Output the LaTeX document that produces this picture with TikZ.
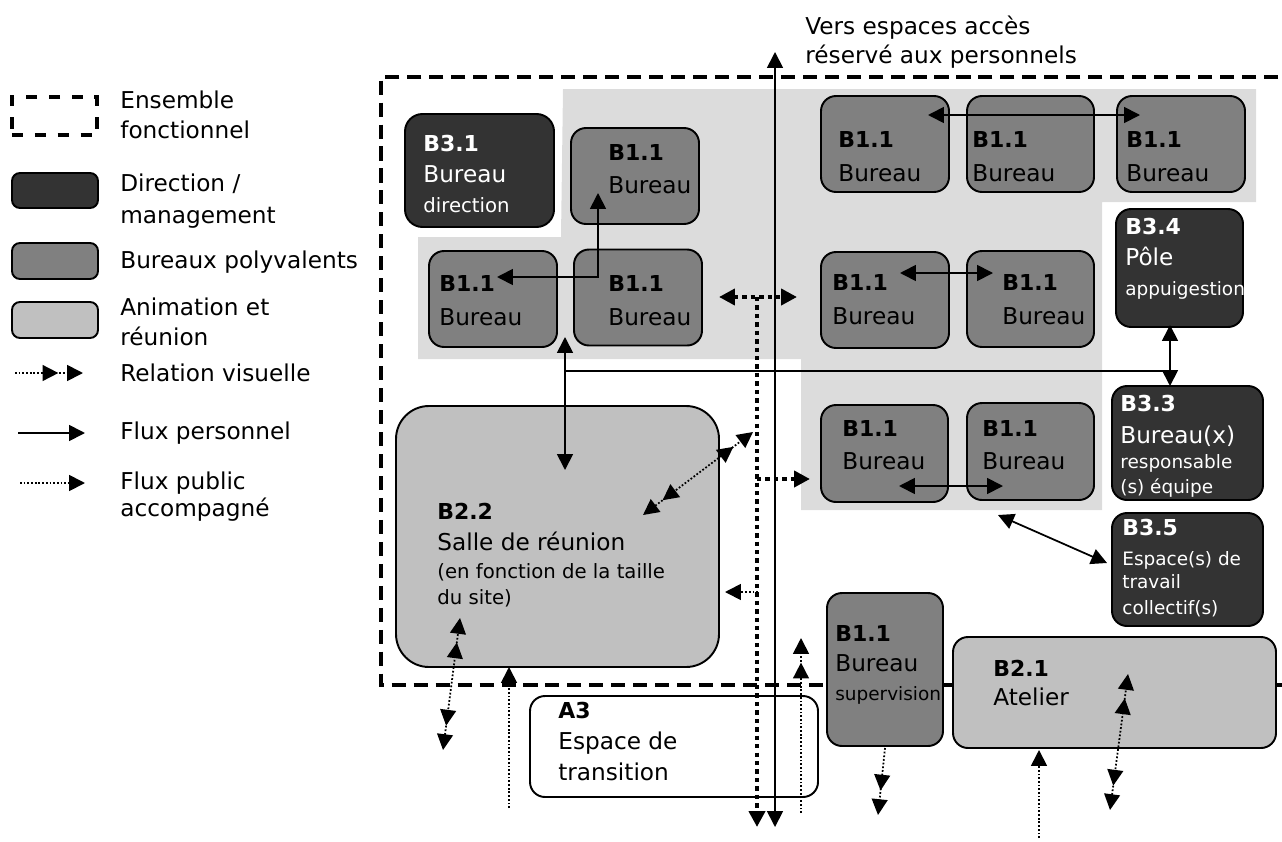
\documentclass[tikz,border=0pt]{standalone}
\usepackage{fontspec}
\setmainfont{DejaVu Sans}
\usetikzlibrary{arrows.meta}

\definecolor{fdark}{HTML}{333333}
\definecolor{fmid}{HTML}{808080}
\definecolor{flight}{HTML}{C0C0C0}
\definecolor{fbg}{HTML}{DCDCDC}
\newcommand{\sm}{\fontsize{10.5}{13}\selectfont}
\newcommand{\smb}{\fontsize{11.2}{13}\selectfont}
\newcommand{\bcode}[1]{{\fontsize{12.5}{15}\selectfont\bfseries #1}}

\tikzset{
  boite/.style={draw, line width=1.1pt, rounded corners=3mm, inner sep=0pt},
  direction/.style={boite, fill=fdark},
  polyv/.style={boite, fill=fmid},
  anim/.style={boite, fill=flight},
  ensemble/.style={line width=2pt, dash pattern=on 8pt off 4.5pt},
  txt/.style={inner sep=0pt, anchor=west, align=left, font=\fontsize{13.2}{19}\selectfont},
  legtxt/.style={txt, font=\fontsize{13.2}{17}\selectfont},
  flux/.style={line width=1pt, {Triangle[length=9pt,width=9pt]}-{Triangle[length=9pt,width=9pt]}},
  fluxpub/.style={line width=1pt, dash pattern=on 1pt off 1.1pt, -{Triangle[length=9pt,width=9pt]}},
  publicfort/.style={line width=2.5pt, dash pattern=on 2.5pt off 2.3pt},
  relvis/.style={line width=1pt, dash pattern=on 1pt off 1.1pt,
    -{Triangle[length=9pt,width=9pt,sep=5pt]Triangle[length=9pt,width=9pt]}},
  relvis2/.style={relvis,
    {Triangle[length=9pt,width=9pt]Triangle[length=9pt,width=9pt,sep=5pt]}-{Triangle[length=9pt,width=9pt,sep=5pt]Triangle[length=9pt,width=9pt]}},
}

\begin{document}
\begin{tikzpicture}[x=0.2mm,y=-0.2mm]
	\useasboundingbox (0,0) rectangle (1282,841);
	\clip (0,0) rectangle (1282,841);
	
	% zone grise
	\fill[fbg] (563,89) -- (1256,89) -- (1256,202) -- (1102,202) -- (1102,510) -- (801,510)
		-- (801,359) -- (418,359) -- (418,237) -- (561,237) -- cycle;
	
	% ensemble fonctionnel
	\draw[ensemble] (1300,77) -- (381,77) -- (381,685) -- (1300,685);
	
	% legende
	\node[draw, line width=2pt, dash pattern=on 6.5pt off 6.5pt, minimum width=17mm, minimum height=7.6mm] (legens) at (54.5,116) {};
	\node[direction, rounded corners=1.6mm, minimum width=17.2mm, minimum height=7mm] (legdir) at (55,190.5) {};
	\node[polyv, rounded corners=1.6mm, minimum width=17.2mm, minimum height=7.2mm] (legpol) at (55,261) {};
	\node[anim, rounded corners=1.6mm, minimum width=17.2mm, minimum height=7.2mm] (leganim) at (55,320) {};
	
	\node[legtxt] (tens) at (120,115) {Ensemble\\fonctionnel};
	\node[legtxt] (tdir) at (120,201) {Direction /\\[1pt]management};
	\node[legtxt] (tpol) at (120,262) {Bureaux polyvalents};
	\node[legtxt] (tanim) at (120,322) {Animation et\\réunion};
	\node[legtxt] (trv) at (120,373) {Relation visuelle};
	\node[legtxt] (tfp) at (120,433) {Flux personnel};
	\node[legtxt] (tpub) at (120,497) {Flux public\\[-1.7pt]accompagné};
	
	\coordinate (lrv1) at (15,373);
	\coordinate (lrv2) at (83,373);
	\coordinate (lfp1) at (18,433);
	\coordinate (lfp2) at (85,433);
	\coordinate (lpub1) at (20,483);
	\coordinate (lpub2) at (85,483);
	\draw[relvis] (lrv1) -- (lrv2);
	\draw[line width=1pt, -{Triangle[length=9pt,width=9pt]}] (lfp1) -- (lfp2);
	\draw[fluxpub] (lpub1) -- (lpub2);
	
	% boites
	\node[direction, rounded corners=3.5mm, minimum width=29.8mm, minimum height=22.6mm] (b31) at (479.5,170.5) {};
	\node[polyv, minimum width=25.6mm, minimum height=19.2mm] (b11a) at (635,176) {};
	\node[polyv, minimum width=25.6mm, minimum height=19.2mm] (b11b) at (493,299) {};
	\node[polyv, minimum width=25.6mm, minimum height=19.2mm] (b11c) at (638,297.5) {};
	\node[polyv, minimum width=25.6mm, minimum height=19.2mm] (b11d) at (885,144) {};
	\node[polyv, minimum width=25.4mm, minimum height=19.2mm] (b11e) at (1030.5,144) {};
	\node[polyv, minimum width=25.6mm, minimum height=19.2mm] (b11f) at (1181,144) {};
	\node[polyv, minimum width=25.6mm, minimum height=19.2mm] (b11g) at (885,300) {};
	\node[polyv, minimum width=25.4mm, minimum height=19.2mm] (b11h) at (1030.5,299) {};
	\node[polyv, minimum width=25.4mm, minimum height=19.4mm] (b11i) at (884.5,453.5) {};
	\node[polyv, minimum width=25.4mm, minimum height=19.4mm] (b11j) at (1030.5,451.5) {};
	\node[direction, minimum width=25.4mm, minimum height=23.6mm] (b34) at (1179.5,268) {};
	\node[direction, minimum width=30.2mm, minimum height=22.8mm] (b33) at (1187.5,443) {};
	\node[direction, minimum width=30.2mm, minimum height=22.6mm] (b35) at (1187.5,569.5) {};
	\node[anim, rounded corners=6.6mm, minimum width=64.6mm, minimum height=52.2mm] (b22) at (557.5,536.5) {};
	\node[polyv, minimum width=23.2mm, minimum height=30.6mm] (b11s) at (885,669.5) {};
	\node[anim, minimum width=64.6mm, minimum height=22.2mm] (b21) at (1114.5,692.5) {};
	\node[boite, fill=white, minimum width=57.6mm, minimum height=20.2mm] (a3) at (674,746.5) {};
	
	% textes des boites
	\node[txt, text=white] (tb31) at (423,174) {\bcode{B3.1}\\[-1pt]Bureau\\[-2pt]{\smb direction}};
	\node[txt] (tb11a) at (608,169) {\bcode{B1.1}\\Bureau};
	\node[txt] (tb11b) at (439,300.5) {\bcode{B1.1}\\Bureau};
	\node[txt] (tb11c) at (608,300.5) {\bcode{B1.1}\\Bureau};
	\node[txt] (tb11d) at (838,156.5) {\bcode{B1.1}\\Bureau};
	\node[txt] (tb11e) at (972,156.5) {\bcode{B1.1}\\Bureau};
	\node[txt] (tb11f) at (1126,156.5) {\bcode{B1.1}\\Bureau};
	\node[txt] (tb11g) at (832,299.5) {\bcode{B1.1}\\Bureau};
	\node[txt] (tb11h) at (1002,299.5) {\bcode{B1.1}\\Bureau};
	\node[txt] (tb11i) at (842,445) {\bcode{B1.1}\\Bureau};
	\node[txt] (tb11j) at (982,445) {\bcode{B1.1}\\Bureau};
	\node[txt, text=white] (tb34) at (1125,259) {\bcode{B3.4}\\[-1.5pt]Pôle\\[-1.5pt]{\sm appuigestion}};
	\node[txt, text=white] (tb33) at (1120,446.5) {\bcode{B3.3}\\[-1pt]Bureau(x)\\[-4.3pt]{\sm responsable}\\[-4.8pt]{\sm (s) équipe}};
	\node[txt, text=white] (tb35) at (1122,568) {\bcode{B3.5}\\[-2pt]{\sm Espace(s) de}\\[-5.4pt]{\sm travail}\\[-4.3pt]{\sm collectif(s)}};
	\node[txt] (tb22) at (437,555) {\bcode{B2.2}\\[-1.4pt]Salle de réunion\\[-2.6pt]{\smb (en fonction de la taille}\\[-4.3pt]{\smb du site)}};
	\node[txt] (tb11s) at (835,665) {\bcode{B1.1}\\[-2pt]Bureau\\[-2pt]{\sm supervision}};
	\node[txt] (tb21) at (993,683) {\bcode{B2.1}\\[-2pt]Atelier};
	\node[txt] (ta3) at (558,741.5) {\bcode{A3}\\[-1pt]Espace de\\[-1.5pt]transition};
	\node[legtxt] (tvers) at (805,42.5) {Vers espaces accès\\[-0.6pt]réservé aux personnels};
	
	% flux public (circulation centrale)
	\coordinate (pub-haut) at (757,297);
	\coordinate (pub-bas) at (757,827);
	\coordinate (pub-g) at (719,297);
	\coordinate (pub-d) at (797,297);
	\coordinate (pub-m) at (757,479);
	\coordinate (pub-md) at (810,479);
	\coordinate (pub-s) at (758,592);
	\coordinate (pub-sg) at (725,592);
	\draw[publicfort, -{Triangle[length=9pt,width=9pt]}] (pub-haut) -- (pub-bas);
	\draw[publicfort, {Triangle[length=9pt,width=9pt]}-{Triangle[length=9pt,width=9pt]}] (pub-g) -- (pub-d);
	\draw[publicfort, -{Triangle[length=9pt,width=9pt]}] (pub-m) -- (pub-md);
	\draw[fluxpub] (pub-s) -- (pub-sg);
	
	% flux personnel
	\coordinate (haut) at (775,52);
	\coordinate (bas) at (775,827);
	\draw[flux] (haut) -- (bas);
	\coordinate (c1) at (598,193);
	\coordinate (c2) at (497,277);
	\draw[flux] (c2) -| (c1);
	\coordinate (t1) at (928,115);
	\coordinate (t2) at (1140,115);
	\draw[flux] (t1) -- (t2);
	\coordinate (m1) at (900,273);
	\coordinate (m2) at (993,273);
	\draw[flux] (m1) -- (m2);
	\coordinate (l1) at (899,486);
	\coordinate (l2) at (1003,486);
	\draw[flux] (l1) -- (l2);
	\coordinate (s1) at (565,337);
	\coordinate (s2) at (565,470);
	\draw[flux] (s1) -- (s2);
	\coordinate (h1) at (565,371);
	\coordinate (h2) at (1170,371);
	\draw[line width=1pt] (h1) -- (h2);
	\coordinate (p1) at (1170,325);
	\coordinate (p2) at (1170,386);
	\draw[flux] (p1) -- (p2);
	\coordinate (e1) at (998,515);
	\coordinate (e2) at (1107,563);
	\draw[flux] (e1) -- (e2);
	
	% relations visuelles
	\coordinate (r1) at (643,515);
	\coordinate (r2) at (753,432);
	\draw[relvis2] (r1) -- (r2);
	\coordinate (r3) at (443,750);
	\coordinate (r4) at (460,618);
	\draw[relvis2] (r3) -- (r4);
	\coordinate (r5) at (801,813);
	\coordinate (r6) at (801,638);
	\draw[relvis] (r5) -- (r6);
	\coordinate (r7) at (885,748);
	\coordinate (r8) at (878,815);
	\draw[relvis] (r7) -- (r8);
	\coordinate (r9) at (1110,810);
	\coordinate (r10) at (1128,674);
	\draw[relvis2] (r9) -- (r10);
	
	% flux public accompagne
	\coordinate (f1) at (509,808);
	\coordinate (f2) at (509,667);
	\draw[fluxpub] (f1) -- (f2);
	\coordinate (f3) at (1039,838);
	\coordinate (f4) at (1039,750);
	\draw[fluxpub] (f3) -- (f4);
\end{tikzpicture}
\end{document}
